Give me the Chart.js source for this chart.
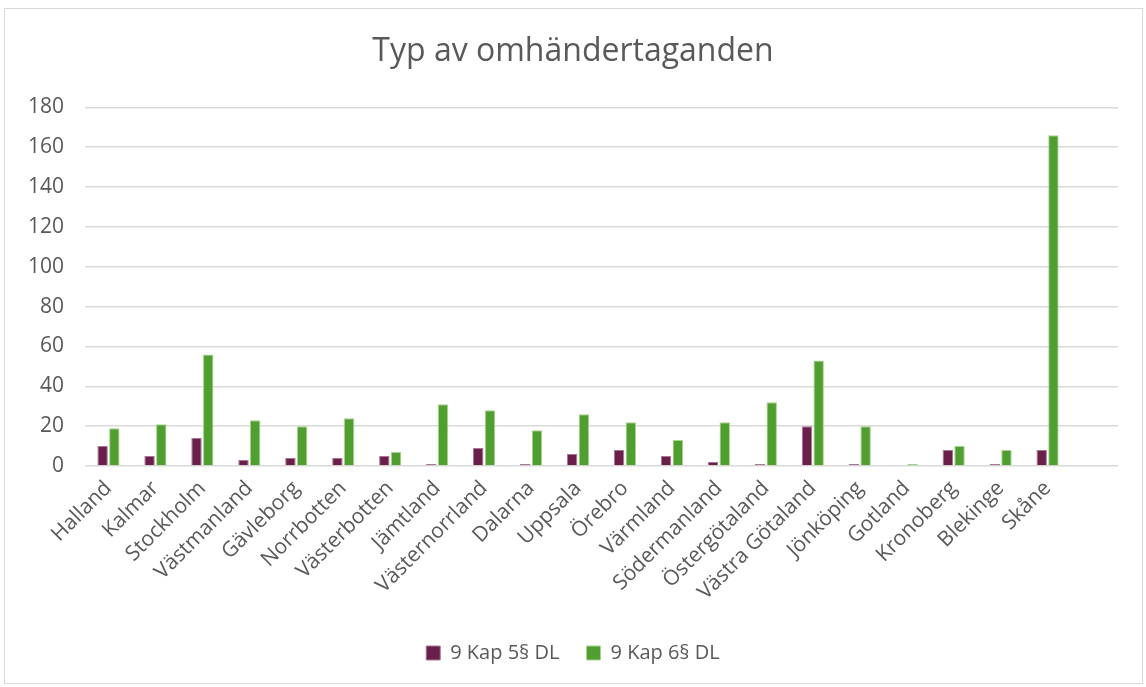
<!DOCTYPE html>
<html>
<head>
<meta charset="utf-8">
<script src="https://cdn.jsdelivr.net/npm/chart.js@4"></script>
<style>
  html, body { margin: 0; padding: 0; background: #fff; }
  #wrap { position: absolute; left: 0; top: 0; width: 1146px; height: 687px; }
  #frame { position: absolute; left: 4px; top: 8px; width: 1137px; height: 674px; border: 1px solid #D9D9D9; pointer-events: none; }
</style>
</head>
<body>
<div id="wrap"><canvas id="c" width="1146" height="687"></canvas></div>
<div id="frame"></div>
<script>
// last label is an empty category slot, as in the original chart
const categories = ["Halland","Kalmar","Stockholm","Västmanland","Gävleborg","Norrbotten","Västerbotten","Jämtland","Västernorrland","Dalarna","Uppsala","Örebro","Värmland","Södermanland","Östergötaland","Västra Götaland","Jönköping","Gotland","Kronoberg","Blekinge","Skåne",""];
const kap5 = [10,5,14,3,4,4,5,1,9,1,6,8,5,2,1,20,1,0,8,1,8];
const kap6 = [19,21,56,23,20,24,7,31,28,18,26,22,13,22,32,53,20,1,10,8,166];
const seriesNames = ["9 Kap 5§ DL","9 Kap 6§ DL"];
const titleText = "Typ av omhändertaganden";
const yMax = 180, yStep = 20;

const FONT = "'Open Sans'";
const GREY = "#595959";

new Chart(document.getElementById('c'), {
  type: 'bar',
  data: {
    labels: categories,
    datasets: [
      { label: seriesNames[0], data: kap5, backgroundColor: '#6A1F48', borderColor: '#A7759A', borderWidth: 1, barPercentage: 0.89, categoryPercentage: 0.5 },
      { label: seriesNames[1], data: kap6, backgroundColor: '#509E2F', borderColor: '#A5D58F', borderWidth: 1, barPercentage: 0.89, categoryPercentage: 0.5 }
    ]
  },
  options: {
    responsive: false,
    animation: false,
    layout: { padding: { left: 28, right: 28, top: 0, bottom: 14 } },
    plugins: {
      title: { display: true, text: titleText, color: GREY, font: { family: FONT, size: 32, weight: 'normal' }, padding: { top: 33, bottom: 36 } },
      legend: { position: 'bottom', labels: { color: GREY, font: { family: FONT, size: 20 }, boxWidth: 14, boxHeight: 14, padding: 27 } },
      tooltip: { enabled: false }
    },
    scales: {
      x: {
        grid: { display: false },
        border: { display: false },
        ticks: { color: GREY, font: { family: FONT, size: 21 }, maxRotation: 45, minRotation: 45, autoSkip: false, padding: 2 },
        afterFit: (s) => { s.height = 150; }
      },
      y: {
        min: 0, max: yMax,
        grid: { color: '#D9D9D9', lineWidth: 1.5, drawTicks: false },
        border: { display: false },
        ticks: { stepSize: yStep, color: GREY, font: { family: FONT, size: 21 }, padding: 21 },
        afterFit: (s) => { s.width = 57; }
      }
    }
  }
});
</script>
</body>
</html>
